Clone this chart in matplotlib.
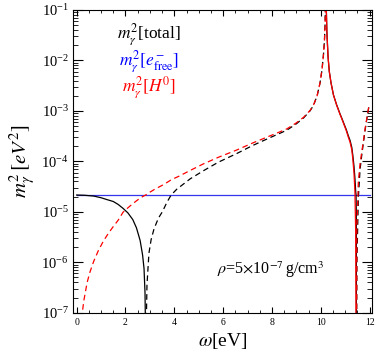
### Photon effective mass squared vs frequency, free electrons + neutral hydrogen ###
import matplotlib
matplotlib.use('Agg')
import matplotlib.pyplot as plt
from matplotlib.ticker import MultipleLocator, LogLocator, NullFormatter

plt.rcParams['font.family'] = 'serif'
plt.rcParams['font.serif'] = ['Liberation Serif', 'DejaVu Serif']
plt.rcParams['mathtext.fontset'] = 'stix'

# free electron contribution (flat)
omega_free = [0.0, 12.0]
m2_free = [2.15e-5, 2.15e-5]

# neutral hydrogen contribution, signed (negative parts are drawn dashed as |m2|)
omega_h = [0.20, 0.23, 0.30, 0.43, 0.55, 0.70, 0.90, 1.10, 1.30, 1.50, 1.70, 1.90,
           2.10, 2.30, 2.50, 2.70, 2.84, 3.00, 3.20, 3.40, 3.60, 3.87, 4.20, 4.65,
           5.19, 5.80, 6.56, 7.20, 7.92, 8.30, 8.61, 9.00, 9.30, 9.56, 9.70, 9.85,
           9.97, 10.05, 10.11, 10.15, 10.18, 10.195,
           10.205, 10.25, 10.30, 10.35, 10.42, 10.52, 10.65, 10.79, 10.86, 10.93,
           11.05, 11.13, 11.20, 11.27, 11.31, 11.36, 11.40, 11.43, 11.445,
           11.465, 11.48, 11.54, 11.61, 11.68, 11.75, 11.82, 11.90, 11.98]
m2_h = [-7.5e-8, -1.0e-7, -1.8e-7, -4.0e-7, -6.5e-7, -1.05e-6, -1.75e-6, -2.65e-6,
        -3.75e-6, -5.1e-6, -6.8e-6, -9.8e-6, -1.2e-5, -1.45e-5, -1.72e-5, -2.0e-5,
        -2.17e-5, -2.45e-5, -2.8e-5, -3.15e-5, -3.55e-5, -4.3e-5, -5.1e-5, -6.6e-5,
        -8.9e-5, -1.2e-4, -1.68e-4, -2.3e-4, -3.2e-4, -3.8e-4, -4.4e-4, -5.8e-4,
        -7.5e-4, -1.02e-3, -1.3e-3, -2.0e-3, -3.6e-3, -6.5e-3, -1.29e-2, -2.4e-2,
        -5.9e-2, -0.3,
        0.3, 3.7e-2, 1.15e-2, 6.0e-3, 3.6e-3, 2.06e-3, 1.3e-3, 8.5e-4, 7.0e-4, 5.7e-4,
        4.0e-4, 3.0e-4, 2.4e-4, 1.7e-4, 1.15e-4, 6.0e-5, 2.5e-5, 4.0e-6, 5.0e-8,
        -5.0e-8, -5.0e-6, -4.0e-5, -9.0e-5, -1.55e-4, -2.6e-4, -4.5e-4, -7.8e-4, -1.31e-3]

# total, signed
omega_tot = [0.0, 0.30, 0.70, 1.00, 1.25, 1.50, 1.70, 1.90, 2.10, 2.30, 2.45, 2.60,
             2.70, 2.76, 2.80, 2.82,
             2.85, 2.88, 2.96, 3.05, 3.17, 3.35, 3.51, 3.70, 3.87, 4.10, 4.65, 5.19,
             5.80, 6.56, 7.20, 7.92, 8.30, 8.61, 9.00, 9.30, 9.56, 9.70, 9.85, 9.97,
             10.05, 10.11, 10.15, 10.18, 10.195,
             10.205, 10.25, 10.30, 10.35, 10.42, 10.52, 10.65, 10.79, 10.86, 10.93,
             11.05, 11.13, 11.20, 11.27, 11.31, 11.36, 11.40, 11.43, 11.445, 11.455,
             11.46,
             11.47, 11.48, 11.54, 11.61, 11.68, 11.75, 11.82, 11.90, 11.98]
m2_tot = [2.15e-5, 2.13e-5, 2.05e-5, 1.9e-5, 1.74e-5, 1.6e-5, 1.4e-5, 1.17e-5,
          9.5e-6, 7.0e-6, 4.8e-6, 2.7e-6, 1.4e-6, 7.5e-7, 2.5e-7, 5e-8,
          -5e-8, -3.5e-7, -1.5e-6, -2.8e-6, -4.6e-6, -7.5e-6, -1.0e-5, -1.55e-5,
          -2.15e-5, -2.8e-5, -4.5e-5, -6.5e-5, -9.6e-5, -1.43e-4, -2.05e-4, -2.95e-4,
          -3.55e-4, -4.15e-4, -5.55e-4, -7.3e-4, -1.0e-3, -1.28e-3, -1.98e-3, -3.58e-3,
          -6.5e-3, -1.29e-2, -2.4e-2, -5.9e-2, -0.3,
          0.3, 3.7e-2, 1.15e-2, 6.0e-3, 3.6e-3, 2.08e-3, 1.32e-3, 8.7e-4, 7.2e-4, 5.9e-4,
          4.2e-4, 3.2e-4, 2.6e-4, 1.9e-4, 1.36e-4, 8.1e-5, 4.6e-5, 2.55e-5, 2.15e-5, 1.0e-5,
          5e-8,
          -5e-8, -1.0e-6, -1.9e-5, -6.9e-5, -1.34e-4, -2.4e-4, -4.3e-4, -7.6e-4, -1.29e-3]


def sign_runs(x, y):
    """Split a signed series into runs of constant sign, returns (sign, xs, |ys|)."""
    runs = []
    start = 0
    for i in range(1, len(y) + 1):
        if i == len(y) or (y[i] > 0) != (y[start] > 0):
            runs.append((y[start] > 0, x[start:i], [abs(v) for v in y[start:i]]))
            start = i
    return runs


def draw_signed(ax, x, y, color, lw):
    for positive, xs, ys in sign_runs(x, y):
        if positive:
            ax.plot(xs, ys, color=color, lw=lw, ls='-')
        else:
            ax.plot(xs, ys, color=color, lw=lw, ls=(0, (4.5, 3)))


fig = plt.figure(figsize=(3.79, 3.61), dpi=100)
ax = fig.add_axes([0.1926, 0.1338, 0.789, 0.8385])

ax.plot(omega_free, m2_free, color='#3535ee', lw=0.9)
draw_signed(ax, omega_tot, m2_tot, 'black', 0.9)
draw_signed(ax, omega_h, m2_h, 'red', 0.9)

ax.set_yscale('log')
ax.set_xlim(-0.15, 12.1)
ax.set_ylim(1e-7, 1e-1)

ax.xaxis.set_major_locator(MultipleLocator(2))
ax.xaxis.set_minor_locator(MultipleLocator(0.5))
ax.yaxis.set_major_locator(LogLocator(base=10, numticks=20))
ax.yaxis.set_minor_locator(LogLocator(base=10, subs=range(2, 10), numticks=20))
ax.yaxis.set_minor_formatter(NullFormatter())
ax.tick_params(which='both', direction='in', top=True, right=True)
ax.tick_params(axis='x', which='major', length=4, labelsize=7, pad=4)
ax.tick_params(axis='x', which='minor', length=2.5)
ax.tick_params(axis='y', which='major', length=7, labelsize=10.5, pad=3)
ax.tick_params(axis='y', which='minor', length=3.5)

ax.set_xlabel(r'$\omega$[eV]', fontsize=14, labelpad=3)
ax.set_ylabel(r'$m_\gamma^2\,[eV^2]$', fontsize=15, labelpad=2)

ax.text(0.254, 0.92, r'$m_\gamma^2$[total]', color='black', fontsize=12.5,
        ha='center', va='center', transform=ax.transAxes)
ax.text(0.254, 0.832, r'$m_\gamma^2[e^-_{\rm free}]$', color='blue', fontsize=12.5,
        ha='center', va='center', transform=ax.transAxes)
ax.text(0.254, 0.744, r'$m_\gamma^2[H^0]$', color='red', fontsize=12.5,
        ha='center', va='center', transform=ax.transAxes)
ax.text(0.662, 0.141, r'$\rho$=5$\times$10$^{-7}\,$g/cm$^3$', fontsize=11.5,
        ha='center', va='center', transform=ax.transAxes)

fig.savefig('out.png', dpi=100)
